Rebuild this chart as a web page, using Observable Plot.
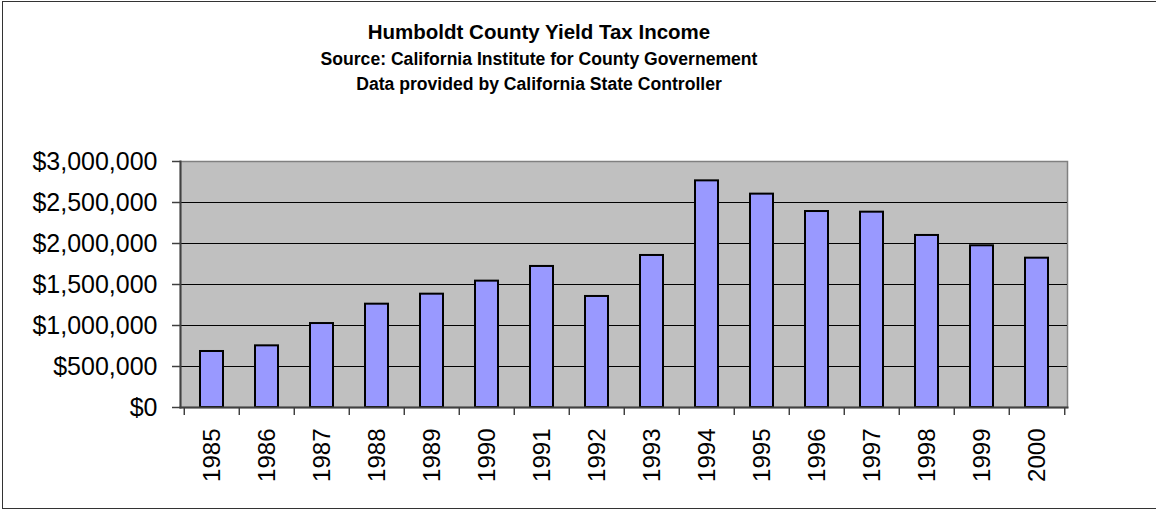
<!DOCTYPE html>
<html>
<head>
<meta charset="utf-8">
<script src="https://cdn.jsdelivr.net/npm/d3@7"></script>
<script src="https://cdn.jsdelivr.net/npm/@observablehq/plot@0.6"></script>
<style>
  html, body { margin: 0; padding: 0; background: #fff; overflow: hidden; }
  #wrap { position: relative; width: 1156px; height: 510px; font-family: "Liberation Sans", Arial, sans-serif; color: #000; }
  #border { position: absolute; left: 2px; top: 1px; width: 1200px; height: 506px; border: 1px solid #333; border-right: none; }
  #header { position: relative; height: 110px; }
  .line { position: absolute; left: 0; width: 1078px; text-align: center; font-weight: bold; line-height: 1; white-space: nowrap; }
  #t1 { top: 21.6px; font-size: 20.5px; }
  #t2 { top: 51px; font-size: 17.6px; }
  #t3 { top: 75.5px; font-size: 17.6px; }
  #chart svg { display: block; }
</style>
</head>
<body>
<div id="wrap">
  <div id="border"></div>
  <div id="header">
    <div class="line" id="t1">Humboldt County Yield Tax Income</div>
    <div class="line" id="t2">Source: California Institute for County Governement</div>
    <div class="line" id="t3">Data provided by California State Controller</div>
  </div>
  <div id="chart"></div>
</div>
<script>
const years = ["1985","1986","1987","1988","1989","1990","1991","1992","1993","1994","1995","1996","1997","1998","1999","2000"];
const income = [683000, 752000, 1024000, 1260000, 1382000, 1541000, 1720000, 1354000, 1854000, 2764000, 2602000, 2390000, 2382000, 2098000, 1972000, 1821000];
const yTicks = [0, 500000, 1000000, 1500000, 2000000, 2500000, 3000000];
const gridLines = [500000, 1000000, 1500000, 2000000, 2500000];

const data = years.map((y, i) => ({year: y, value: income[i]}));

const W = 1156, H = 400, ML = 180, MR = 89, MT = 51, MB = 103;
const step = (W - ML - MR) / years.length;
const fmt = d3.format(",");

const chart = Plot.plot({
  width: W,
  height: H,
  marginLeft: ML,
  marginRight: MR,
  marginTop: MT,
  marginBottom: MB,
  style: {fontFamily: "'Liberation Sans', Arial, sans-serif", color: "#000", background: "transparent", overflow: "visible"},
  x: {type: "band", domain: years, paddingInner: 0.585, paddingOuter: 0.2925, axis: null, label: null},
  y: {domain: [0, 3000000], axis: null, label: null},
  marks: [
    Plot.frame({fill: "#c0c0c0", stroke: "#808080", strokeWidth: 1.5}),
    Plot.ruleY(gridLines, {stroke: "#000", strokeWidth: 1}),
    Plot.barY(data, {x: "year", y: "value", fill: "#9999ff", stroke: "#000", strokeWidth: 2}),
    Plot.frame({anchor: "left", stroke: "#404040", strokeWidth: 2}),
    Plot.frame({anchor: "bottom", stroke: "#404040", strokeWidth: 2}),
    Plot.axisY({ticks: yTicks, label: null, tickSize: 8, tickPadding: 15, tickFormat: d => "$" + fmt(d), fontSize: 25, fill: "#000", stroke: "#404040", strokeWidth: 1.5}),
    Plot.axisX({label: null, tickSize: 8, tickFormat: () => "", dx: -step / 2, stroke: "#404040", strokeWidth: 1.5}),
    Plot.axisX({label: null, ticks: [years[years.length - 1]], tickSize: 8, tickFormat: () => "", dx: step / 2, stroke: "#404040", strokeWidth: 1.5}),
    Plot.axisX({label: null, tickSize: 0, tickPadding: 21, tickRotate: -90, fontSize: 24, fill: "#000"})
  ]
});
document.getElementById("chart").appendChild(chart);
</script>
</body>
</html>
